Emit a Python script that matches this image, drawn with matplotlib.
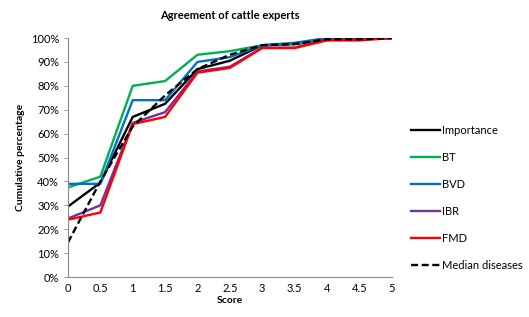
import matplotlib
matplotlib.use("Agg")
import matplotlib.pyplot as plt

plt.rcParams['font.family'] = ['Lato', 'DejaVu Sans']

scores = [0, 0.5, 1, 1.5, 2, 2.5, 3, 3.5, 4, 4.5, 5]
importance = [29.5, 39.5, 67, 72.5, 87, 90.5, 97, 97.5, 99.5, 99.5, 100]
bt = [37.5, 42, 80, 82, 93, 94.5, 97, 97.5, 100, 100, 100]
bvd = [39, 39, 74, 74, 90, 92, 97, 98, 100, 100, 100]
ibr = [24.5, 30, 64.5, 69, 86, 88, 96, 96, 99.5, 99.5, 100]
fmd = [24, 27, 64, 67, 85.5, 87.5, 95.8, 95.8, 99, 99, 100]
median = [14.5, 40, 63, 76, 87, 93, 97, 97.5, 99.5, 99.5, 100]

xticks = [0, 0.5, 1, 1.5, 2, 2.5, 3, 3.5, 4, 4.5, 5]
xticklabels = ["0", "0.5", "1", "1.5", "2", "2.5", "3", "3.5", "4", "4.5", "5"]
yticks = list(range(0, 101, 10))
yticklabels = [f"{v}%" for v in yticks]

fig = plt.figure(figsize=(5.29, 3.17), dpi=100)
ax = fig.add_axes([0.1285, 0.126, 0.612, 0.754])

lw = 1.7
ax.plot(scores, importance, color='black', lw=lw, label='Importance')
ax.plot(scores, bt, color='#00B050', lw=lw, label='BT')
ax.plot(scores, bvd, color='#0070C0', lw=lw, label='BVD')
ax.plot(scores, ibr, color='#7030A0', lw=lw, label='IBR')
ax.plot(scores, fmd, color='#FF0000', lw=lw, label='FMD')
ax.plot(scores, median, color='black', lw=lw, ls=(0, (3, 1.5)), label='Median diseases')

ax.set_xlim(0, 5)
ax.set_ylim(0, 100)
ax.set_xticks(xticks)
ax.set_xticklabels(xticklabels)
ax.set_yticks(yticks)
ax.set_yticklabels(yticklabels)
ax.tick_params(labelsize=8, length=3, color='#888888', width=0.6)
ax.tick_params(axis='x', length=0, pad=4)
for s in ['top', 'right']:
    ax.spines[s].set_visible(False)
for s in ['left', 'bottom']:
    ax.spines[s].set_color('#888888')
    ax.spines[s].set_linewidth(0.8)

ax.set_title('Agreement of cattle experts', fontsize=8, fontweight='bold', pad=14)
ax.set_xlabel('Score', fontsize=7.5, fontweight='bold', labelpad=2)
ax.set_ylabel('Cumulative percentage', fontsize=7.5, fontweight='bold', labelpad=4)

leg = ax.legend(loc='upper left', bbox_to_anchor=(1.03, 0.68), frameon=False,
                fontsize=8, handlelength=2.6, handletextpad=0.15, labelspacing=1.45)

fig.savefig('out.png', dpi=100)
